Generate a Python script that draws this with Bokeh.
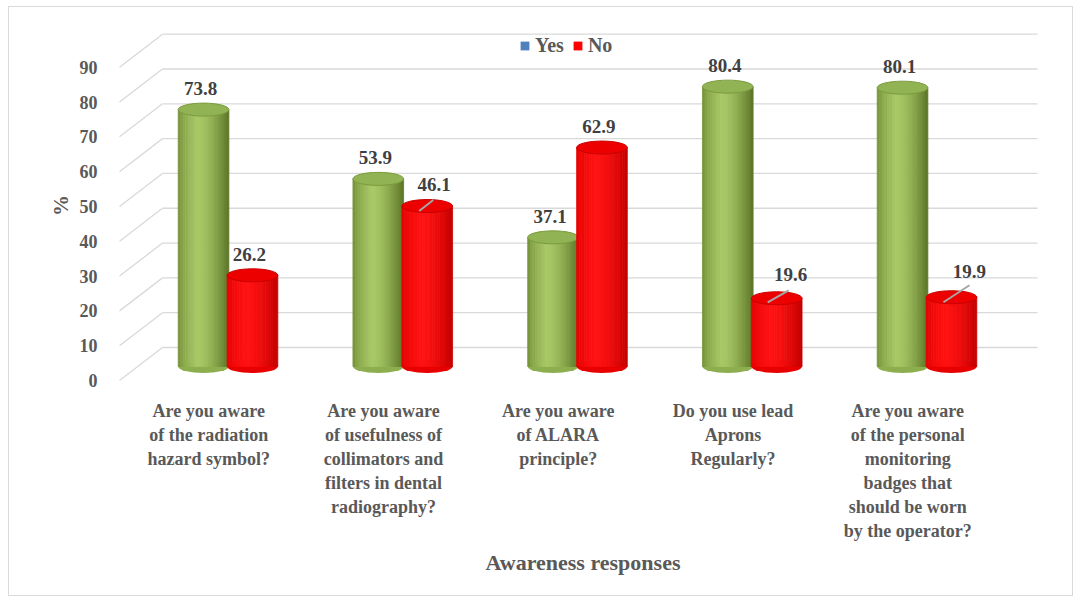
import numpy as np
from bokeh.plotting import figure
from bokeh.models import Range1d, LinearAxis, FixedTicker, Legend, LegendItem, ColumnDataSource
from bokeh.embed import file_html
from bokeh.resources import INLINE

# ---------------- data ----------------
categories = [
    "Are you aware\nof the radiation\nhazard symbol?",
    "Are you aware\nof usefulness of\ncollimators and\nfilters in dental\nradiography?",
    "Are you aware\nof ALARA\nprinciple?",
    "Do you use lead\nAprons\nRegularly?",
    "Are you aware\nof the personal\nmonitoring\nbadges that\nshould be worn\nby the operator?",
]
yes_values = [73.8, 53.9, 37.1, 80.4, 80.1]
no_values = [26.2, 46.1, 62.9, 19.6, 19.9]
y_ticks = [0, 10, 20, 30, 40, 50, 60, 70, 80, 90]
series_names = ["Yes", "No"]

# ---------------- style / geometry ----------------
FONT = "Liberation Serif"
TXT = "#595959"
VAL_TXT = "#404040"
GRID = "#D9D9D9"
PX_X = 174.75          # pixels per category unit
PX_Y = 3.48            # pixels per percent
BAR_OFF = 0.14         # bar centre offset from category centre
BAR_W = 0.29           # bar width (category units)
ELL_H = 13 / PX_Y      # cylinder cap height
BACK_DY = 19 / PX_Y
FRONT_DY = -14 / PX_Y
X0, X1 = -0.701, 4.764
Y0, Y1 = -6.9, 99.4
WALL_END = (1037 - 227.5) / PX_X

p = figure(width=1065, height=590, output_backend="svg", toolbar_location=None,
           x_range=Range1d(X0, X1), y_range=Range1d(Y0, Y1),
           y_axis_location=None, min_border_left=96, min_border_right=14,
           min_border_top=13, min_border_bottom=207)
p.styles = {"border": "1px solid #D9D9D9", "margin-left": "8px", "margin-top": "6px"}
p.outline_line_color = None
p.xgrid.visible = False
p.ygrid.visible = False
p.background_fill_color = "white"
p.border_fill_color = "white"

# front-plane range for the value axis (labels sit on the front edge of the floor)
p.extra_y_ranges = {"front": Range1d(Y0 - FRONT_DY, Y1 - FRONT_DY)}
yax = LinearAxis(y_range_name="front", ticker=FixedTicker(ticks=y_ticks))
yax.axis_line_color = None
yax.major_tick_line_color = None
yax.minor_tick_line_color = None
yax.major_label_standoff = 2
yax.major_label_text_font = FONT
yax.major_label_text_font_style = "bold"
yax.major_label_text_font_size = "18px"
yax.major_label_text_color = TXT
yax.axis_label = "%"
yax.axis_label_text_font = FONT
yax.axis_label_text_font_style = "bold"
yax.axis_label_text_font_size = "21px"
yax.axis_label_text_color = TXT
yax.axis_label_standoff = 4
p.add_layout(yax, "left")

# walls: back gridlines and left side-wall diagonals
xb = X0 + (162 - 105) / PX_X
xf = X0 + (119 - 105) / PX_X
p.segment(x0=[xb] * len(y_ticks), y0=[v + BACK_DY for v in y_ticks],
          x1=[WALL_END] * len(y_ticks), y1=[v + BACK_DY for v in y_ticks],
          line_color=GRID, line_width=1.3)
p.segment(x0=[xf] * len(y_ticks), y0=[v + FRONT_DY for v in y_ticks],
          x1=[xb] * len(y_ticks), y1=[v + BACK_DY for v in y_ticks],
          line_color=GRID, line_width=1.3)

# ---------------- cylinders ----------------
def lerp(a, b, t):
    return tuple(int(round(a[k] + (b[k] - a[k]) * t)) for k in range(3))

def hexc(c):
    return "#%02x%02x%02x" % c

styles = {
    "Yes": dict(dark_l=(110, 138, 50), light=(168, 200, 102), dark_r=(90, 116, 38),
                top="#92B353", top_line="#7A9B3E", base="#8DAE4E"),
    "No": dict(dark_l=(225, 0, 0), light=(255, 18, 18), dark_r=(196, 0, 0),
               top="#EC0000", top_line="#C80000", base="#E80000"),
}
N = 20
for s_i, (name, vals) in enumerate(zip(series_names, [yes_values, no_values])):
    st = styles[name]
    sign = -1 if s_i == 0 else 1
    centers = [i + sign * BAR_OFF for i in range(len(vals))]
    # bottom caps
    p.ellipse(x=centers, y=[0] * len(vals), width=BAR_W, height=ELL_H,
              fill_color=st["base"], line_color=None)
    L, R, T, B, C = [], [], [], [], []
    for c, v in zip(centers, vals):
        for k in range(N):
            t = (k + 0.5) / N
            if t < 0.38:
                col = lerp(st["dark_l"], st["light"], (t / 0.38) ** 0.6)
            else:
                col = lerp(st["light"], st["dark_r"], ((t - 0.38) / 0.62) ** 1.6)
            L.append(c - BAR_W / 2 + k * BAR_W / N)
            R.append(c - BAR_W / 2 + (k + 1) * BAR_W / N)
            T.append(v)
            B.append(0)
            C.append(hexc(col))
    p.quad(left=L, right=R, top=T, bottom=B, fill_color=C, line_color=C, line_width=0.8)
    p.ellipse(x=centers, y=vals, width=BAR_W, height=ELL_H,
              fill_color=st["top"], line_color=st["top_line"], line_width=1)

# ---------------- value labels ----------------
label_pos = {  # pixel offsets of labels (dx, dy) and optional leader lines
    ("No", 1): (7, -22, (-8, 5, 6, -6)),
    ("No", 3): (14, -24, (-9, 4, 12, -8)),
    ("No", 4): (18, -26, (-8, 5, 18, -12)),
}
lx, ly, lt, xo, yo = [], [], [], [], []
sx0, sy0, sx1, sy1 = [], [], [], []
for s_i, (name, vals) in enumerate(zip(series_names, [yes_values, no_values])):
    sign = -1 if s_i == 0 else 1
    for i, v in enumerate(vals):
        c = i + sign * BAR_OFF
        dx, dy, lead = label_pos.get((name, i), (-3, -21, None))
        lx.append(c); ly.append(v); lt.append(f"{v:.1f}")
        xo.append(dx); yo.append(dy)
        if lead:
            sx0.append(c + lead[0] / PX_X); sy0.append(v - lead[1] / PX_Y)
            sx1.append(c + lead[2] / PX_X); sy1.append(v - lead[3] / PX_Y)
p.segment(x0=sx0, y0=sy0, x1=sx1, y1=sy1, line_color="#A6A6A6", line_width=2)
src = ColumnDataSource(dict(x=lx, y=ly, t=lt, xo=xo, yo=yo))
p.text(x="x", y="y", text="t", x_offset="xo", y_offset="yo", source=src,
       text_align="center", text_baseline="middle", text_font_size="19px",
       text_font_style="bold", text_color=VAL_TXT, text_font={"value": FONT})

# ---------------- category axis ----------------
tick_pos = [i - 0.11 for i in range(len(categories))]
xa = p.xaxis[0]
xa.ticker = FixedTicker(ticks=tick_pos)
xa.major_label_overrides = {t: c for t, c in zip(tick_pos, categories)}
xa.axis_line_color = None
xa.major_tick_line_color = None
xa.minor_tick_line_color = None
xa.major_label_standoff = 4
xa.major_label_text_font = FONT
xa.major_label_text_font_style = "bold"
xa.major_label_text_font_size = "18px"
xa.major_label_text_color = TXT
xa.axis_label = "Awareness responses"
xa.axis_label_text_font = FONT
xa.axis_label_text_font_style = "bold"
xa.axis_label_text_font_size = "22px"
xa.axis_label_text_color = TXT
xa.axis_label_standoff = 6

# ---------------- legend (swatch-only renderers, nothing drawn in the plot) ----------------
empty = dict(left=np.array([np.nan]), right=np.array([np.nan]),
             top=np.array([np.nan]), bottom=np.array([np.nan]))
r_yes = p.quad(source=ColumnDataSource(dict(empty)), left="left", right="right",
               top="top", bottom="bottom", fill_color="#4F81BD", line_color=None)
r_no = p.quad(source=ColumnDataSource(dict(empty)), left="left", right="right",
              top="top", bottom="bottom", fill_color="#FF0000", line_color=None)
legend = Legend(items=[LegendItem(label="Yes", renderers=[r_yes]),
                       LegendItem(label="No", renderers=[r_no])],
                orientation="horizontal", location=(414, 333),
                glyph_width=11, glyph_height=11, label_standoff=5, spacing=8,
                padding=0, margin=0, border_line_color=None,
                background_fill_alpha=0, label_text_font=FONT,
                label_text_font_style="bold", label_text_font_size="20px",
                label_text_color=TXT)
p.add_layout(legend)

open("out.html", "w").write(file_html(p, INLINE))
